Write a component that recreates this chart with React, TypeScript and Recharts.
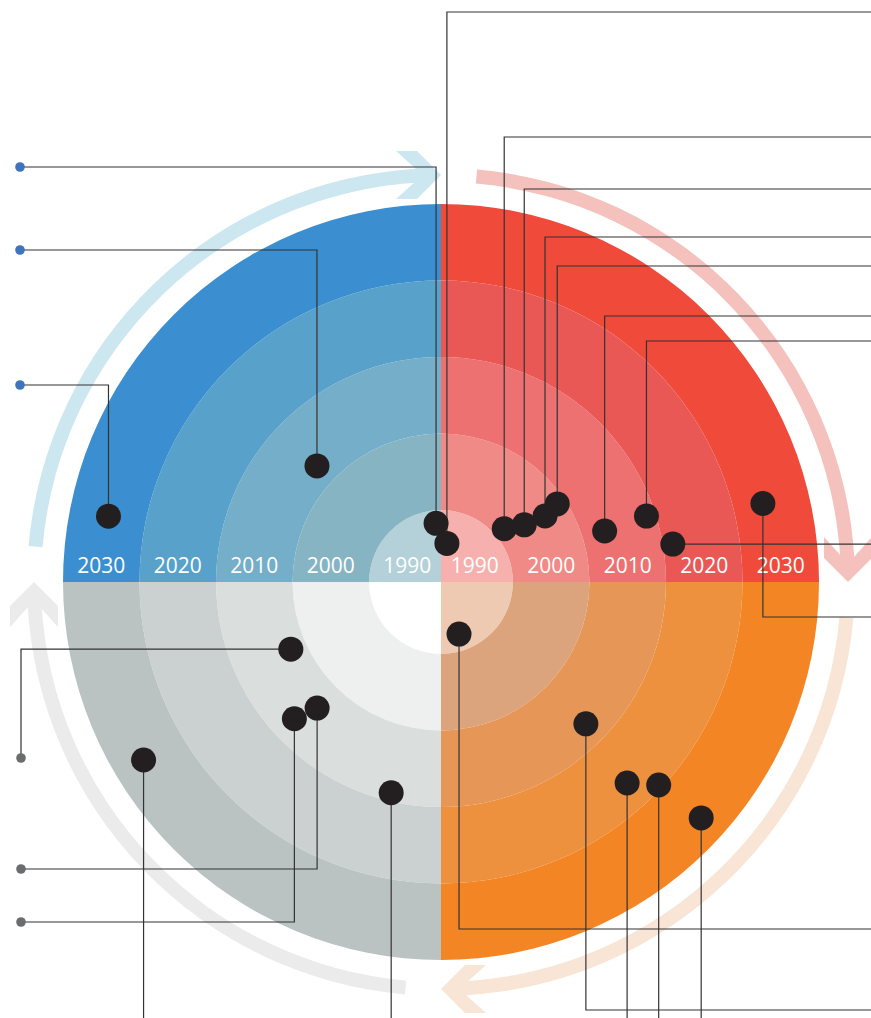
import type { FC, ReactNode } from 'react'
import {
    PieChart,
    Pie,
    Cell,
    ScatterChart,
    Scatter,
    XAxis,
    YAxis
} from 'recharts'

const WIDTH = 871
const HEIGHT = 1018
const CX = 441
const CY = 582

// quadrants in pie order (counter-clockwise from 3 o'clock)
const QUADRANTS = ['red', 'blue', 'gray', 'orange']
// ring boundaries, years from the centre out
const RING_EDGES = [1985.6, 1995, 2005, 2015, 2025, 2035]
const YEAR_TICKS = [1990, 2000, 2010, 2020, 2030]

// milestone dots: year (radius) and angle (degrees, 0 = right, ccw)
const DOT_YEARS = [
    2029.9, 2007.8, 1993.3, 1990.7, 1996.4, 1998.8, 2001.7, 2003.9, 2008.0,
    2013.8, 2016.3, 2028.9, 1992.8, 2012.1, 2021.4, 2024.5, 2031.5, 2007.1,
    2008.7, 2011.8, 2030.9, 2013.9
]
const DOT_ANGLES = [
    168.8, 136.9, 94.8, 81.3, 40.1, 34.5, 32.4, 33.9, 17.3, 17.8, 9.3, 13.7,
    -70.9, -44.4, -47.2, -43.0, -42.2, -155.9, -134.5, -137.0, -149.1, -103.3
]

// cycle arrows: where each arrow tip sits
const CYCLE_TIPS = [90, 0, -90, -180]
const CYCLE_SPAN = 85

const RING_COLORS: Record<string, string[]> = {
    red: ['#f6b0ad', '#f08a86', '#ec7170', '#ea5856', '#f04a3b'],
    blue: ['#b4d0d8', '#87b4c3', '#75aec8', '#57a1ca', '#3b8fd0'],
    gray: ['#ffffff', '#eef0ef', '#dadfdd', '#cbd1d0', '#bac3c2'],
    orange: ['#eecab2', '#dca47c', '#e69757', '#ee913e', '#f48524']
}
const CYCLE_COLORS = ['#cde7f1', '#f5c1bc', '#f8e5d5', '#eaebea']
const LINE_COLOR = '#333333'
const DOT_COLOR = '#231f20'

// leader line routes for each dot (layout only)
const LEADERS: [string, number][][] = [
    [['v', 385], ['h', 20]],
    [['v', 250], ['h', 20]],
    [['v', 167], ['h', 20]],
    [['v', 12], ['h', WIDTH]],
    [['v', 137], ['h', WIDTH]],
    [['v', 189], ['h', WIDTH]],
    [['v', 237], ['h', WIDTH]],
    [['v', 266], ['h', WIDTH]],
    [['v', 316], ['h', WIDTH]],
    [['v', 341], ['h', WIDTH]],
    [['h', WIDTH]],
    [['v', 617], ['h', WIDTH]],
    [['v', 929], ['h', WIDTH]],
    [['v', 1010], ['h', WIDTH]],
    [['v', HEIGHT]],
    [['v', HEIGHT]],
    [['v', HEIGHT]],
    [['h', 21], ['v', 758]],
    [['v', 869], ['h', 21]],
    [['v', 922], ['h', 21]],
    [['v', HEIGHT]],
    [['v', HEIGHT]]
]

const R_MAX = 378
const ARC_R = 407
const ARC_W = 14

const rScale = (year: number): number =>
    ((year - RING_EDGES[0]) /
        (RING_EDGES[RING_EDGES.length - 1] - RING_EDGES[0])) *
    R_MAX

const polar = (r: number, angle: number) => {
    const a = (angle * Math.PI) / 180
    return { x: CX + r * Math.cos(a), y: CY - r * Math.sin(a) }
}

const dots = DOT_YEARS.map((year, i) => polar(rScale(year), DOT_ANGLES[i]))

const leaders = dots.map((start, i) => {
    const pts = [start]
    let cur = start
    for (const [dir, v] of LEADERS[i]) {
        cur = dir === 'v' ? { x: cur.x, y: v } : { x: v, y: cur.y }
        pts.push(cur)
    }
    return pts
})

const endMarkers = leaders
    .map((pts) => pts[pts.length - 1])
    .filter((p) => p.x < 100)
    .map((p) => ({ ...p, color: p.y < CY ? '#3e73bd' : '#6b6c6e' }))

const arrowHeads = CYCLE_TIPS.map((tip, i) => {
    const a = (tip * Math.PI) / 180
    return {
        ...polar(ARC_R, tip),
        rot: (Math.atan2(Math.cos(a), Math.sin(a)) * 180) / Math.PI,
        color: CYCLE_COLORS[i]
    }
})

const yearLabels = YEAR_TICKS.flatMap((year) => [
    { x: CX - rScale(year), y: 573, label: String(year) },
    { x: CX + rScale(year), y: 573, label: String(year) }
])

const quadrantData = QUADRANTS.map((q) => ({ name: q, value: 1 }))

const ArrowHead = (props: any) => {
    const { cx, cy, payload } = props
    return (
        <polygon
            points='0,0 -24,-24 -45,-24 -25,-6 -25,6 -45,24 -24,24'
            transform={`translate(${cx},${cy}) rotate(${payload.rot})`}
            fill={payload.color}
        />
    )
}

const YearLabel = (props: any) => {
    const { cx, cy, payload } = props
    return (
        <text
            x={cx}
            y={cy}
            textAnchor='middle'
            fill='#ffffff'
            fontSize={21}
            fontFamily='"Open Sans", sans-serif'
        >
            {payload.label}
        </text>
    )
}

const App: FC = (): ReactNode => {
    return (
        <div
            style={{
                position: 'absolute',
                left: 0,
                top: 0,
                width: WIDTH,
                height: HEIGHT,
                background: '#ffffff'
            }}
        >
            <div style={{ position: 'absolute', left: 0, top: 0 }}>
                <PieChart
                    width={WIDTH}
                    height={HEIGHT}
                    margin={{ top: 0, right: 0, bottom: 0, left: 0 }}
                >
                    {CYCLE_TIPS.map((tip, i) => (
                        <Pie
                            key={`arc-${tip}`}
                            data={[{ name: 'arc', value: 1 }]}
                            dataKey='value'
                            cx={CX}
                            cy={CY}
                            innerRadius={ARC_R - ARC_W / 2}
                            outerRadius={ARC_R + ARC_W / 2}
                            startAngle={tip + CYCLE_SPAN}
                            endAngle={tip + 3}
                            stroke='none'
                            isAnimationActive={false}
                        >
                            <Cell fill={CYCLE_COLORS[i]} stroke='none' />
                        </Pie>
                    ))}
                    {RING_EDGES.slice(1).map((edge, ring) => (
                        <Pie
                            key={`ring-${edge}`}
                            data={quadrantData}
                            dataKey='value'
                            cx={CX}
                            cy={CY}
                            innerRadius={
                                ring === 0 ? 0 : rScale(RING_EDGES[ring])
                            }
                            outerRadius={rScale(edge)}
                            startAngle={0}
                            endAngle={360}
                            stroke='none'
                            isAnimationActive={false}
                        >
                            {QUADRANTS.map((q) => (
                                <Cell
                                    key={q}
                                    fill={RING_COLORS[q][ring]}
                                    stroke='none'
                                />
                            ))}
                        </Pie>
                    ))}
                </PieChart>
            </div>
            <div style={{ position: 'absolute', left: 0, top: 0 }}>
                <ScatterChart
                    width={WIDTH}
                    height={HEIGHT}
                    margin={{ top: 0, right: 0, bottom: 0, left: 0 }}
                >
                    <XAxis
                        type='number'
                        dataKey='x'
                        domain={[0, WIDTH]}
                        allowDataOverflow
                        hide
                    />
                    <YAxis
                        type='number'
                        dataKey='y'
                        domain={[0, HEIGHT]}
                        reversed
                        allowDataOverflow
                        hide
                    />
                    <Scatter
                        data={arrowHeads}
                        shape={ArrowHead}
                        isAnimationActive={false}
                    />
                    <Scatter
                        data={yearLabels}
                        shape={YearLabel}
                        isAnimationActive={false}
                    />
                    {leaders.map((pts, i) => (
                        <Scatter
                            key={`leader-${i}`}
                            data={pts}
                            line={{ stroke: LINE_COLOR, strokeWidth: 1.2 }}
                            lineType='joint'
                            shape={() => <g />}
                            isAnimationActive={false}
                        />
                    ))}
                    <Scatter
                        data={endMarkers}
                        shape={(p: any) => (
                            <circle
                                cx={p.cx}
                                cy={p.cy}
                                r={4.8}
                                fill={p.payload.color}
                            />
                        )}
                        isAnimationActive={false}
                    />
                    <Scatter
                        data={dots}
                        shape={(p: any) => (
                            <circle
                                cx={p.cx}
                                cy={p.cy}
                                r={12.5}
                                fill={DOT_COLOR}
                            />
                        )}
                        isAnimationActive={false}
                    />
                </ScatterChart>
            </div>
        </div>
    )
}

export default App
